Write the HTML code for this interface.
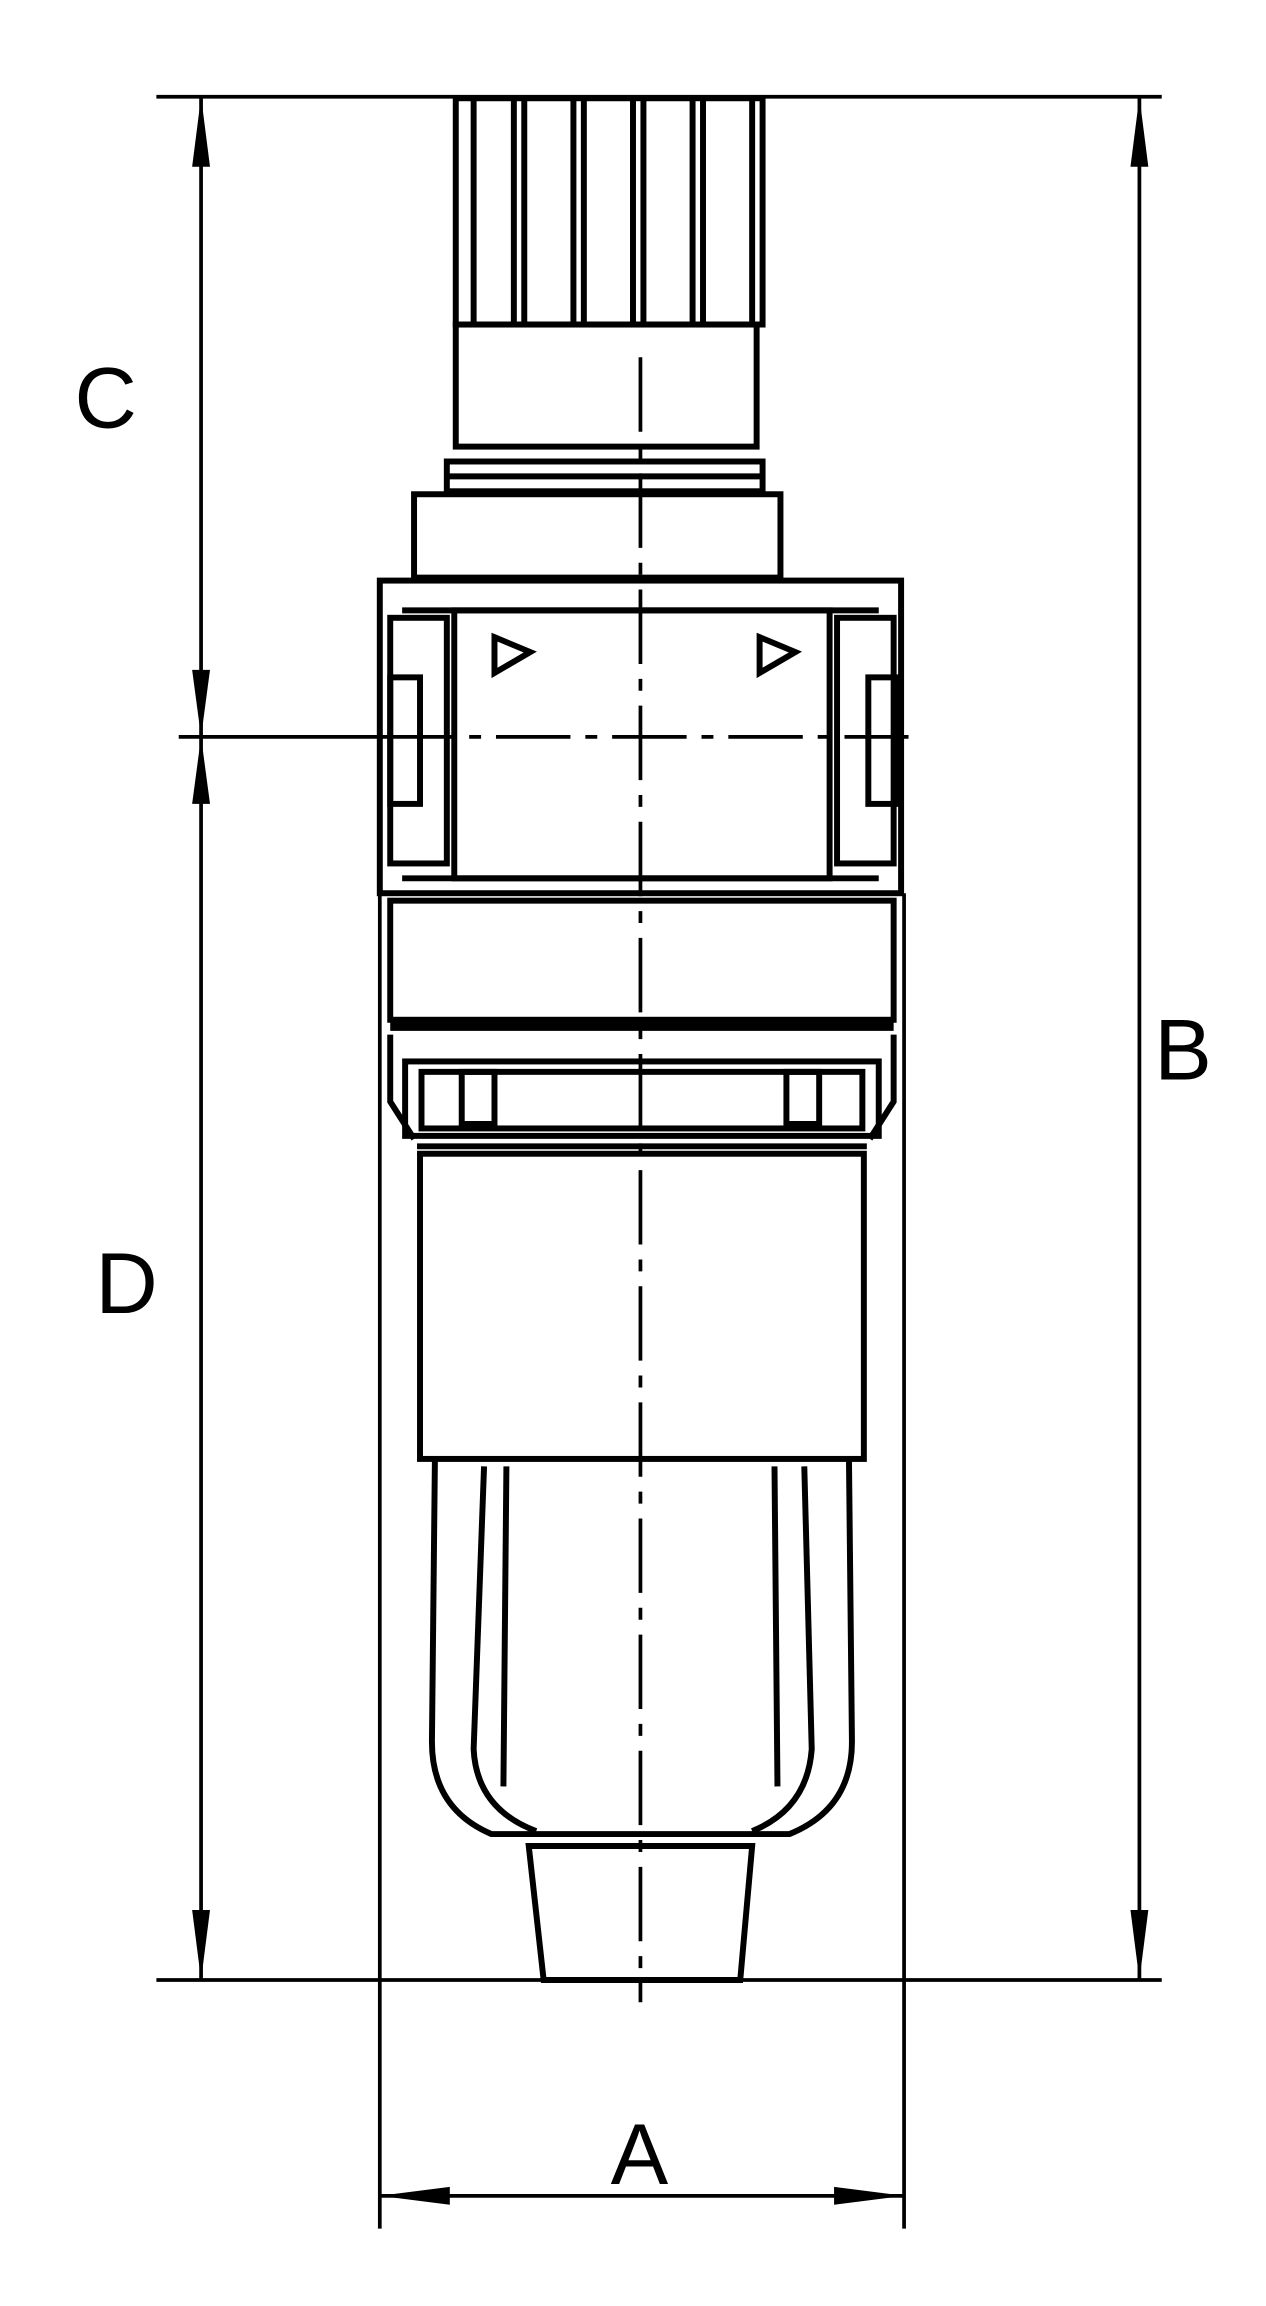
<!DOCTYPE html>
<html><head><meta charset="utf-8"><style>
html,body{margin:0;padding:0;background:#fff;}
svg{display:block}
text{font-family:"Liberation Sans",sans-serif;font-size:58px;fill:#000}
</style></head><body>
<svg width="1266" height="2306" viewBox="0 0 850 1549" preserveAspectRatio="none" xmlns="http://www.w3.org/2000/svg">
<g stroke="#000" stroke-width="2.5" fill="none">
<line x1="105" y1="65" x2="780" y2="65"/>
<line x1="105" y1="1330" x2="780" y2="1330"/>
<line x1="120" y1="495" x2="255" y2="495"/>
<line x1="255" y1="600" x2="255" y2="1497"/>
<line x1="607" y1="600" x2="607" y2="1497"/>
<line x1="135" y1="65" x2="135" y2="1330"/>
<line x1="765" y1="65" x2="765" y2="1330"/>
<line x1="255" y1="1475" x2="607" y2="1475"/>
</g>
<g fill="#000">
<polygon points="135,65 129,112 141,112"/>
<polygon points="135,495 129,450 141,450"/>
<polygon points="135,495 129,540 141,540"/>
<polygon points="135,1330 129,1283 141,1283"/>
<polygon points="765,65 759,112 771,112"/>
<polygon points="765,1330 759,1283 771,1283"/>
<polygon points="255,1475 302,1469 302,1481"/>
<polygon points="607,1475 560,1469 560,1481"/>
</g>
<text x="50" y="287">C</text>
<text x="64" y="882">D</text>
<text x="775" y="725">B</text>
<text x="410" y="1467">A</text>
<g stroke="#000" stroke-width="4" fill="none">
<rect x="306" y="66" width="206" height="152"/>
<path d="M318 66V218M345 66V218M352 66V218M385 66V218M392 66V218M425 66V218M432 66V218M465 66V218M472 66V218M505 66V218"/>
<rect x="306" y="218" width="202" height="82"/>
<rect x="300" y="310" width="212" height="20"/>
<line x1="300" y1="320" x2="512" y2="320"/>
<rect x="278" y="332" width="246" height="56"/>
<rect x="255" y="390" width="350" height="210"/>
<line x1="270" y1="410" x2="590" y2="410"/>
<rect x="262" y="415" width="38" height="165"/>
<rect x="562" y="415" width="38" height="165"/>
<rect x="305" y="410" width="252" height="180"/>
<rect x="262" y="455" width="20" height="85"/>
<rect x="583" y="455" width="20" height="85"/>
<line x1="270" y1="590" x2="590" y2="590"/>
<path d="M332 428l24 10l-24 14z M510 428l24 10l-24 14z"/>
<rect x="262" y="605" width="338" height="80"/>
<line x1="262" y1="689" x2="600" y2="689" stroke-width="7"/>
<path d="M262 695 L262 740 L278 765 M600 695 L600 740 L584 765"/>
<rect x="272" y="713" width="318" height="50"/>
<rect x="283" y="720" width="296" height="38"/>
<rect x="310" y="720" width="22" height="35"/>
<rect x="528" y="720" width="22" height="35"/>
<line x1="280" y1="770" x2="582" y2="770"/>
<rect x="282" y="775" width="298" height="205"/>
<path d="M292 980 L290 1170 Q290 1215 330 1232 L530 1232 Q572 1215 572 1170 L570 980"/>
<path d="M325 985 L318 1175 Q320 1215 360 1230 M540 985 L545 1175 Q542 1215 505 1230"/>
<path d="M340 985 L338 1200 M520 985 L522 1200"/>
<path d="M355 1240 L505 1240 L497 1330 L365 1330 Z"/>
</g>
<g stroke="#000" stroke-width="2.5" fill="none" stroke-dasharray="50,10,8,10">
<line x1="430" y1="240" x2="430" y2="1345"/>
<line x1="255" y1="495" x2="610" y2="495"/>
</g>
</svg>
</body></html>
